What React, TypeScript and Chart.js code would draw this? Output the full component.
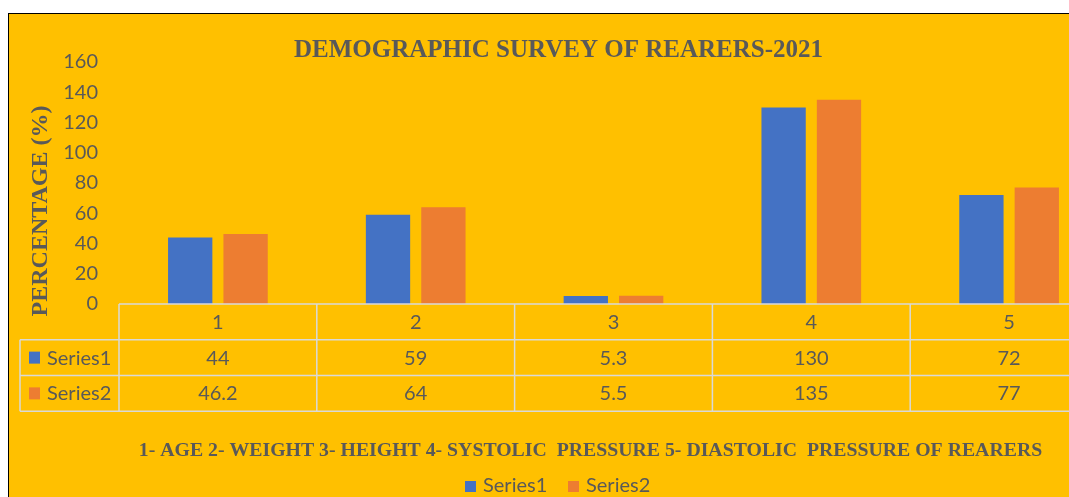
import React, { useEffect, useRef } from 'react';
import { Chart, registerables } from 'chart.js';

Chart.register(...registerables);

const categories = ['1', '2', '3', '4', '5'];
const seriesNames = ['Series1', 'Series2'];
const series1 = [44, 59, 5.3, 130, 72];
const series2 = [46.2, 64, 5.5, 135, 77];
const seriesColors = ['#4472C4', '#ED7D31'];
const yMin = 0;
const yMax = 160;
const yStep = 20;
const chartTitle = 'DEMOGRAPHIC SURVEY OF REARERS-2021';
const yTitle = 'PERCENTAGE (%)';
const xTitle = '1- AGE 2- WEIGHT 3- HEIGHT 4- SYSTOLIC  PRESSURE 5- DIASTOLIC  PRESSURE OF REARERS';

const BG = '#FFC000';
const TEXT = '#595959';
const LINE = '#D9D9D9';
const SANS = 'Lato, "Noto Sans", sans-serif';
const SERIF = '"Liberation Serif", "DejaVu Serif", serif';

const excelPlugin = {
  id: 'excelDecor',
  beforeDraw(chart: any) {
    const { ctx, width, height } = chart;
    ctx.save();
    ctx.fillStyle = BG;
    ctx.fillRect(0, 0, width, height);
    ctx.restore();
  },
  afterDraw(chart: any) {
    const { ctx, chartArea } = chart;
    const xs = chart.scales.x;
    const labels: string[] = chart.data.labels;
    const n = labels.length;
    const cw = (chartArea.right - chartArea.left) / n;
    const rowH = 35.75;
    const top = chartArea.bottom;
    const r1 = top + rowH;
    const r2 = r1 + rowH;
    const r3 = r2 + rowH;
    const leftX = 11;
    const rightX = chart.width;

    ctx.save();
    // Title
    ctx.fillStyle = TEXT;
    ctx.font = `bold 25px ${SERIF}`;
    ctx.textAlign = 'center';
    ctx.textBaseline = 'alphabetic';
    ctx.fillText(chartTitle, 549.5, 43);

    // Y axis title
    ctx.save();
    ctx.translate(38, 197);
    ctx.rotate(-Math.PI / 2);
    ctx.font = `bold 24px ${SERIF}`;
    ctx.textAlign = 'center';
    ctx.fillText(yTitle, 0, 0);
    ctx.restore();

    // X axis title
    ctx.font = `bold 19.8px ${SERIF}`;
    ctx.textAlign = 'center';
    ctx.fillText(xTitle, 581.5, 442);

    // Data table lines
    ctx.strokeStyle = LINE;
    ctx.lineWidth = 1.5;
    ctx.beginPath();
    ctx.moveTo(chartArea.left, top);
    ctx.lineTo(rightX, top);
    [r1, r2, r3].forEach((y) => {
      ctx.moveTo(leftX, y);
      ctx.lineTo(rightX, y);
    });
    ctx.moveTo(leftX, r1);
    ctx.lineTo(leftX, r3);
    for (let i = 0; i < n; i++) {
      const bx = xs.getPixelForValue(i) - cw / 2;
      ctx.moveTo(bx, top);
      ctx.lineTo(bx, r3);
    }
    ctx.stroke();

    // Table text
    ctx.fillStyle = TEXT;
    ctx.font = `20px ${SANS}`;
    ctx.textAlign = 'center';
    ctx.textBaseline = 'alphabetic';
    labels.forEach((lab, i) => {
      ctx.fillText(lab, xs.getPixelForValue(i), (top + r1) / 2 + 7);
    });
    const rows = [
      [r1, r2],
      [r2, r3],
    ];
    chart.data.datasets.forEach((ds: any, di: number) => {
      const [a, b] = rows[di];
      const cy = (a + b) / 2;
      ds.data.forEach((v: number, i: number) => {
        ctx.textAlign = 'center';
        ctx.fillStyle = TEXT;
        ctx.fillText(String(v), xs.getPixelForValue(i), cy + 7);
      });
      ctx.fillStyle = ds.backgroundColor;
      ctx.fillRect(20, cy - 6, 11, 12);
      ctx.fillStyle = TEXT;
      ctx.textAlign = 'left';
      ctx.fillText(ds.label, 38, cy + 7);
    });

    // Legend
    const legendPos = [
      { sx: 456, tx: 474 },
      { sx: 559, tx: 577 },
    ];
    chart.data.datasets.forEach((ds: any, di: number) => {
      const p = legendPos[di];
      ctx.fillStyle = ds.backgroundColor;
      ctx.fillRect(p.sx, 467, 11, 11);
      ctx.fillStyle = TEXT;
      ctx.textAlign = 'left';
      ctx.fillText(ds.label, p.tx, 478);
    });
    ctx.restore();
  },
};

export default function App() {
  const ref = useRef<HTMLCanvasElement | null>(null);
  useEffect(() => {
    if (!ref.current) return;
    const chart = new Chart(ref.current, {
      type: 'bar',
      data: {
        labels: categories,
        datasets: [
          {
            label: seriesNames[0],
            data: series1,
            backgroundColor: seriesColors[0],
            categoryPercentage: 0.56,
            barPercentage: 0.8,
          },
          {
            label: seriesNames[1],
            data: series2,
            backgroundColor: seriesColors[1],
            categoryPercentage: 0.56,
            barPercentage: 0.8,
          },
        ],
      },
      options: {
        responsive: false,
        animation: false,
        devicePixelRatio: 1,
        layout: { padding: { left: 0, right: 11, top: 48, bottom: 200 } },
        plugins: {
          legend: { display: false },
          title: { display: false },
          tooltip: { enabled: false },
        },
        scales: {
          x: { display: false },
          y: {
            min: yMin,
            max: yMax,
            grid: { display: false, drawTicks: false },
            border: { display: false },
            ticks: {
              stepSize: yStep,
              padding: 21,
              color: TEXT,
              font: { family: SANS, size: 20 },
            },
            afterFit(scale: any) {
              scale.width = 110;
            },
          },
        },
      },
      plugins: [excelPlugin],
    });
    return () => chart.destroy();
  }, []);

  return (
    <div
      style={{
        position: 'fixed',
        left: 8,
        top: 13,
        width: 1061,
        height: 484,
        overflow: 'hidden',
        borderTop: '1px solid #000',
        borderLeft: '1px solid #000',
        background: BG,
      }}
    >
      <canvas ref={ref} width={1110} height={490} style={{ display: 'block' }} />
    </div>
  );
}
